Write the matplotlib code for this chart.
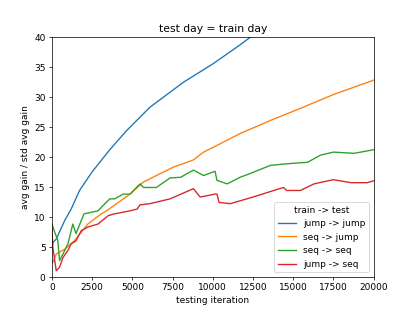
import matplotlib
matplotlib.use("Agg")
import matplotlib.pyplot as plt

# values (x = testing iteration)
jj_x = [0, 60, 270, 800, 1200, 1720, 2500, 3600, 4650, 6100, 8200, 9220, 10050, 11700, 12450, 16000, 20000]
jj_y = [5.0, 5.7, 6.3, 9.4, 11.3, 14.4, 17.5, 21.2, 24.4, 28.3, 32.5, 34.2, 35.6, 38.7, 40.2, 47.0, 54.0]

sj_x = [0, 60, 270, 800, 1400, 2240, 3070, 3400, 4860, 5690, 6730, 7560, 8800, 9430,
        10470, 11700, 13600, 15450, 17500, 20000]
sj_y = [2.3, 2.4, 3.8, 4.6, 6.0, 8.8, 10.5, 11.0, 13.8, 15.8, 17.2, 18.3, 19.5, 20.8,
        22.2, 23.9, 26.1, 28.1, 30.4, 32.8]

ss_x = [0, 370, 480, 690, 1000, 1300, 1500, 1830, 2000, 2870, 3300, 3600, 3900, 4440, 4860,
        5480, 5700, 6500, 7350, 8000, 8800, 9430, 10150, 10260, 10900, 11700, 12300,
        13600, 14800, 15900, 16700, 17500, 18800, 20000]
ss_y = [8.8, 6.0, 2.7, 3.8, 5.5, 8.8, 7.2, 9.4, 10.5, 11.0, 12.2, 13.0, 13.0, 13.8, 13.8,
        15.5, 14.9, 14.9, 16.5, 16.6, 17.8, 16.9, 17.6, 16.1, 15.5, 16.6, 17.2,
        18.6, 18.9, 19.1, 20.3, 20.8, 20.6, 21.2]

js_x = [0, 60, 270, 480, 690, 1000, 1200, 1500, 1830, 2240, 2870, 3500, 3900, 4860,
        5300, 5480, 6100, 7350, 8800, 9220, 10150, 10260, 10400, 11100, 12500, 13800,
        14400, 14600, 15450, 16300, 17500, 18600, 19600, 20000]
js_y = [8.3, 4.9, 1.0, 1.6, 3.2, 4.4, 5.5, 6.0, 7.7, 8.3, 8.8, 10.2, 10.5, 11.0,
        11.3, 12.0, 12.2, 13.0, 14.7, 13.3, 13.8, 13.8, 12.4, 12.2, 13.3, 14.4,
        14.9, 14.4, 14.4, 15.5, 16.2, 15.7, 15.7, 16.0]

labels = ["jump -> jump", "seq -> jump", "seq -> seq", "jump -> seq"]

fig = plt.figure(figsize=(6.4, 4.8), dpi=64.85)
plt.plot(jj_x, jj_y, label=labels[0])
plt.plot(sj_x, sj_y, label=labels[1])
plt.plot(ss_x, ss_y, label=labels[2])
plt.plot(js_x, js_y, label=labels[3])
plt.xlim(0, 20000)
plt.ylim(0, 40)
plt.title("test day = train day")
plt.xlabel("testing iteration")
plt.ylabel("avg gain / std avg gain")
plt.legend(title="train -> test", loc="lower right")
plt.savefig("out.png")
